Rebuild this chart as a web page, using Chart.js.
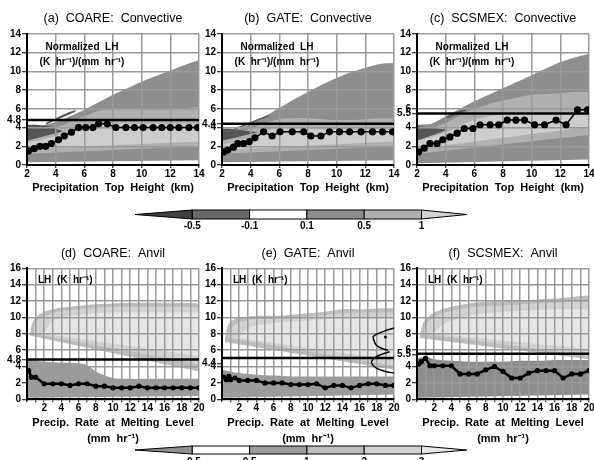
<!DOCTYPE html>
<html><head><meta charset="utf-8">
<script src="https://cdn.jsdelivr.net/npm/chart.js@4.4.1/dist/chart.umd.min.js"></script>
<style>
html,body{margin:0;padding:0;background:#fff}
body{position:relative;width:594px;height:460px;overflow:hidden;font-family:"Liberation Sans",Arial,sans-serif}
canvas{position:absolute}
#cb{position:absolute;left:0;top:0}
</style></head><body>
<canvas id="pa" width="205" height="200" style="left:0;top:0"></canvas>
<canvas id="pb" width="205" height="200" style="left:195px;top:0"></canvas>
<canvas id="pc" width="205" height="200" style="left:390px;top:0"></canvas>
<canvas id="pd" width="205" height="218" style="left:0;top:230px"></canvas>
<canvas id="pe" width="205" height="218" style="left:195px;top:230px"></canvas>
<canvas id="pf" width="205" height="218" style="left:390px;top:230px"></canvas>
<svg id="cb" width="594" height="460"></svg>
<script>
// ---------- DATA ----------
// Panel titles
const titles = ['(a)  COARE:  Convective','(b)  GATE:  Convective','(c)  SCSMEX:  Convective','(d)  COARE:  Anvil','(e)  GATE:  Anvil','(f)  SCSMEX:  Anvil'];
const meanLabels = [4.8, 4.4, 5.5, 4.8, 4.4, 5.5];     // extra y tick labels
const meanLines = [4.8, 4.4, 5.5, 4.85, 5.05, 5.55];   // thick horizontal lines, as drawn

// Convective panels: normalized LH vs precipitation top height
const bandXTop = [2,3,4,5,6,7,8,9,10,11,12,13,14];

const aLineX = [2.1,2.5,2.9,3.3,3.7,4.2,4.6,5.1,5.6,6.1,6.6,7.0,7.6,8.2,8.9,9.5,10.1,10.8,11.4,12.0,12.6,13.3,13.9];
const aLineY = [1.5,1.75,2.0,2.0,2.3,2.7,3.1,3.5,4.0,4.0,4.0,4.4,4.4,4.0,4.0,4.0,4.0,4.0,4.0,4.0,4.0,4.0,4.0];
const aOuterHi = [4.0,4.2,4.6,5.2,5.9,6.7,7.5,8.2,8.9,9.5,10.1,10.7,11.2];
const aOuterLo = [0.3,0.35,0.4,0.5,0.6,0.7,0.8,0.75,0.65,0.6,0.55,0.5,0.5];
const aMidHi = [3.2,3.6,4.0,4.6,5.2,5.8,6.0,6.1,6.0,5.9,6.0,6.1,6.2];
const aMidLo = [1.2,1.3,1.4,1.5,1.6,1.8,1.9,1.9,1.8,1.8,1.9,2.0,2.0];
const aInHi = [2.4,2.7,3.1,3.6,4.2,4.4,4.4,4.4,4.4,4.4,4.4,4.4,4.4];
const aInLo = [1.7,1.9,2.1,2.3,2.5,2.6,2.6,2.5,2.5,2.5,2.5,2.5,2.5];
const aDarkX = [2,2.5,3,3.5,4,4.5];
const aDarkHi = [4.3,4.3,4.25,4.15,3.9,3.6];
const aDarkLo = [2.6,2.8,3.0,3.2,3.4,3.6];
const aStreakX = [3.3,4,4.7,5.4];
const aStreakHi = [4.5,5.0,5.5,5.9];
const aStreakLo = [4.3,4.7,5.2,5.7];

const bLineX = [2.1,2.4,2.8,3.1,3.5,3.9,4.3,4.9,5.5,6.05,6.9,7.7,8.2,8.9,9.5,10.2,10.9,11.7,12.5,13.2,13.9];
const bLineY = [1.4,1.6,1.9,2.3,2.3,2.5,2.9,3.55,3.1,3.55,3.55,3.55,3.1,3.1,3.55,3.55,3.55,3.55,3.55,3.55,3.55];
const bOuterHi = [3.6,3.8,4.4,5.2,6.1,7.0,7.8,8.6,9.3,9.9,10.4,10.8,10.9];
const bOuterLo = [0.3,0.35,0.4,0.5,0.6,0.6,0.6,0.6,0.55,0.5,0.5,0.5,0.5];
const bMidHi = [3.0,3.4,3.9,4.5,4.9,5.0,5.0,4.9,4.8,4.8,4.9,5.0,5.0];
const bMidLo = [1.2,1.3,1.4,1.5,1.6,1.7,1.7,1.7,1.7,1.7,1.8,1.9,2.0];
const bInHi = [2.2,2.5,3.0,3.6,3.9,3.9,3.9,3.8,3.8,3.8,3.8,3.8,3.8];
const bInLo = [1.6,1.8,2.0,2.2,2.4,2.5,2.5,2.5,2.5,2.5,2.5,2.5,2.5];
const bDarkX = [2,2.5,3,3.5,4,4.5];
const bDarkHi = [3.9,3.9,3.8,3.7,3.6,3.5];
const bDarkLo = [2.6,2.8,3.0,3.2,3.4,3.5];
const bStreakX = [2.3,3,4,5,5.3];
const bStreakHi = [3.6,4.0,4.6,5.2,5.4];
const bStreakLo = [3.4,3.8,4.3,4.9,5.2];

const cLineX = [2.1,2.5,2.9,3.4,3.8,4.3,4.8,5.3,5.9,6.4,7.1,7.7,8.3,8.9,9.5,10.2,10.9,11.7,12.4,13.2,13.9];
const cLineY = [1.4,1.8,2.3,2.3,2.7,3.0,3.4,3.9,3.9,4.3,4.3,4.3,4.8,4.8,4.8,4.3,4.3,4.8,4.3,5.9,5.9];
const cOuterHi = [4.3,4.4,5.2,6.0,6.8,7.5,8.2,8.9,9.6,10.3,11.0,11.5,11.9];
const cOuterLo = [0.2,0.3,0.4,0.6,0.8,1.0,1.1,1.1,1.1,1.0,1.0,0.8,0.6];
const cMidHi = [3.6,3.9,4.5,5.3,6.0,6.5,6.9,7.2,7.5,7.6,7.7,7.8,7.8];
const cMidLo = [1.2,1.4,1.6,1.9,2.1,2.3,2.4,2.5,2.6,2.7,2.8,3.0,3.2];
const cInHi = [2.6,3.0,3.5,4.2,4.8,5.2,5.4,5.5,5.5,5.5,5.6,5.7,5.8];
const cInLo = [1.7,1.9,2.2,2.6,3.0,3.3,3.5,3.6,3.7,3.8,3.9,4.0,4.1];
const cDarkX = [2,2.5,3,3.5,4];
const cDarkHi = [4.2,4.1,4.0,3.9,3.8];
const cDarkLo = [2.6,2.8,3.1,3.4,3.7];
const cStreakX = [4,4.7,5.4];
const cStreakHi = [5.1,5.6,6.0];
const cStreakLo = [4.9,5.3,5.8];

// Anvil panels: LH vs precip rate at melting level
const blobX1 = [0.3,0.6,1,2,3,4,6,8,10,12,14,16,18,20];
const blobX2 = [0.8,1,2,3,4,6,8,10,12,14,16,18,20];
const blobX3 = [2,2.5,3,4,6,8,10,12,14,16,18,20];
const lowX = [0,1,2,4,6,7,8,10,12,14,16,18,20];

const dLineX = [0.2,0.5,1,2,3,4,5,6,7,8,9,10,11,12,13,14,15,16,17,18,19,20];
const dLineY = [3.5,2.7,2.7,1.9,1.9,1.9,1.7,1.9,1.9,1.6,1.6,1.4,1.4,1.4,1.6,1.4,1.4,1.4,1.4,1.4,1.4,1.4];
const dBlob1Hi = [7.8,9.2,10.0,10.7,11.0,11.2,11.4,11.6,11.7,11.8,11.8,11.8,11.8,11.7];
const dBlob1Lo = [7.8,6.4,5.8,5.4,5.2,5.1,4.9,4.2,3.6,3.4,3.4,3.4,3.4,3.4];
const dBlob2Hi = [8.0,9.4,10.1,10.5,10.8,11.0,11.2,11.3,11.3,11.3,11.3,11.3,11.2];
const dBlob2Lo = [8.0,6.6,6.0,5.7,5.5,5.3,5.0,4.6,4.4,4.3,4.3,4.3,4.3];
const dBlob3Hi = [8.0,9.0,9.6,10.0,10.3,10.5,10.6,10.6,10.6,10.6,10.6,10.6];
const dBlob3Lo = [8.0,7.0,6.5,6.2,5.9,5.6,5.5,5.4,5.4,5.4,5.4,5.3];
const dLowHi = [4.9,4.7,4.6,4.5,4.4,4.2,3.4,2.6,2.5,2.5,2.5,2.5,2.5];
const dLowLo = [0.2,0.3,0.4,0.5,0.5,0.5,0.5,0.4,0.4,0.4,0.4,0.4,0.4];

const eLineX = [0.2,0.5,0.8,1,1.5,2,3,4,5,6,7,8,9,10,11,12,13,14,15,16,17,18,19,20];
const eLineY = [2.7,2.4,2.8,2.4,2.6,2.3,2.3,2.3,2.0,2.0,2.0,1.8,1.8,1.8,1.9,1.4,1.7,1.7,1.4,1.7,1.9,1.9,1.7,1.7];
const eBlob1Hi = [7.0,8.8,9.5,10.0,10.1,10.2,10.2,10.3,10.5,10.7,11.0,11.0,11.1,11.1];
const eBlob1Lo = [7.0,5.6,4.8,4.3,4.0,3.9,3.8,3.7,3.6,3.5,3.5,3.6,3.6,3.6];
const eBlob2Hi = [7.5,8.6,9.4,9.7,9.8,9.9,10.0,10.1,10.3,10.5,10.6,10.6,10.6];
const eBlob2Lo = [7.5,6.0,5.2,4.8,4.6,4.4,4.3,4.2,4.1,4.1,4.1,4.1,4.1];
const eBlob3Hi = [7.5,8.2,8.6,9.0,9.3,9.5,9.6,9.8,10.0,10.0,10.0,10.0];
const eBlob3Lo = [7.5,6.8,6.3,5.9,5.6,5.3,5.1,4.9,4.8,4.8,4.8,4.8];
const eLowHi = [3.6,3.4,3.2,3.0,2.9,2.85,2.8,2.8,2.8,2.8,2.8,2.8,2.8];
const eLowLo = [0.2,0.4,0.5,0.6,0.6,0.6,0.6,0.6,0.6,0.6,0.6,0.6,0.6];
const eContour1X = [20,18.8,17.6,17.7,17.95,18.6,19.3];
const eContour1Y = [8.7,8.3,7.7,7.1,6.6,6.2,6.0];
const eContour2X = [19.5,18.6,17.95,17.5,17.4,17.95,19,20];
const eContour2Y = [5.8,5.5,5.2,4.8,4.4,3.8,3.4,3.2];
const eContourDotX = [19.0];
const eContourDotY = [7.6];

const fLineX = [0.2,0.5,1,1.5,2,3,4,5,6,7,8,9,10,11,12,13,14,15,16,17,18,19,20];
const fLineY = [4.3,4.6,5.0,4.1,4.1,4.1,4.1,3.1,3.1,3.1,3.6,4.0,3.4,2.6,2.6,3.2,3.5,3.5,3.5,2.6,3.1,3.1,3.5];
const fBlob1Hi = [7.5,9.0,9.8,10.6,11.0,11.3,11.7,11.9,12.0,12.1,12.2,12.3,12.5,12.7];
const fBlob1Lo = [7.5,6.2,5.6,5.2,5.0,4.9,4.8,4.8,4.8,4.8,4.8,4.8,4.8,4.9];
const fBlob2Hi = [8.0,9.2,10.0,10.5,10.8,11.2,11.4,11.5,11.6,11.7,11.8,11.9,12.0];
const fBlob2Lo = [8.0,6.8,6.0,5.7,5.5,5.3,5.2,5.2,5.1,5.1,5.1,5.2,5.3];
const fBlob3Hi = [8.0,8.7,9.1,9.6,10.2,10.5,10.7,10.8,10.9,11.0,11.0,11.0];
const fBlob3Lo = [8.0,7.5,7.2,6.7,6.3,6.1,6.0,6.0,6.0,6.0,6.0,6.1];
const fLowHi = [5.0,5.2,4.9,4.7,4.6,4.6,4.6,4.6,4.7,4.7,4.8,4.8,4.8];
const fLowLo = [0.2,0.4,0.5,0.6,0.6,0.6,0.6,0.6,0.6,0.6,0.6,0.6,0.6];

// Colour bars
const cbTopLabels = ['-0.5','-0.1','0.1','0.5','1'];
const cbTopColors = ['#404040','#686868','#ffffff','#8c8c8c','#b0b0b0','#d2d2d2'];
const cbBotLabels = ['-0.5','0.5','1','2','3'];
const cbBotColors = ['#8e8e8e','#ffffff','#9c9c9c','#bdbdbd','#d4d4d4','#e8e8e8'];

// ---------- CHARTS ----------
Chart.defaults.font.family = '"Liberation Sans", Arial, Helvetica, sans-serif';
Chart.defaults.color = '#000';
Chart.defaults.animation = false;

const pts = (xs, ys) => xs.map((x, i) => ({x, y: ys[i]}));

const innerText = {
  id: 'innerText',
  afterDraw(chart, args, opts) {
    const {ctx, chartArea: a} = chart;
    ctx.save();
    ctx.fillStyle = '#000';
    ctx.textBaseline = 'middle';
    (opts.lines || []).forEach(l => {
      ctx.font = l.font; ctx.textAlign = l.align;
      ctx.fillText(l.text, a.left + l.dx, a.top + l.dy);
    });
    ctx.restore();
  }
};

function build(id, p) {
  // placeholder at index 0 (a fill target of index 0 is never drawn by the filler)
  const ds = [{data: [], borderWidth: 0, pointRadius: 0, fill: false, order: 200}];
  p.bands.forEach((b, k) => {
    const lo = ds.length;
    ds.push({data: pts(b.x, b.lo), borderWidth: 0, borderColor: 'rgba(0,0,0,0)', pointRadius: 0, fill: false, tension: 0.3, order: 100 - k});
    ds.push({data: pts(b.x, b.hi), borderWidth: 0, borderColor: 'rgba(0,0,0,0)', pointRadius: 0, fill: lo, backgroundColor: b.color, tension: 0.3, order: 100 - k});
  });
  (p.contours || []).forEach(c => ds.push({data: pts(c.x, c.y), borderColor: '#000', borderWidth: 1.5, pointRadius: c.r || 0,
    pointBackgroundColor: '#000', pointBorderWidth: 0, showLine: !c.r, fill: false, tension: 0.3, order: 3}));
  ds.push({data: [{x: p.xMin, y: p.meanLine}, {x: p.xMax, y: p.meanLine}], borderColor: '#000', borderWidth: 2.5, pointRadius: 0, fill: false, order: 2});
  ds.push({data: pts(p.lineX, p.lineY), borderColor: '#000', borderWidth: p.lineW, pointRadius: p.ptR, pointBackgroundColor: '#000', pointBorderWidth: 0, fill: false, order: 0});

  new Chart(document.getElementById(id), {
    type: 'line',
    data: {datasets: ds},
    plugins: [innerText],
    options: {
      responsive: false, animation: false, events: [],
      layout: {padding: {left: 0, right: 6, top: 0, bottom: 0}},
      plugins: {
        legend: {display: false}, tooltip: {enabled: false},
        filler: {drawTime: 'beforeDraw', propagate: false},
        title: {display: true, text: p.title, fullSize: false, color: '#000',
                font: {size: 12.5, weight: 'normal', lineHeight: 1.2}, padding: p.titlePad},
        innerText: {lines: p.inner}
      },
      scales: {
        x: {
          type: 'linear', min: p.xMin, max: p.xMax,
          ticks: {stepSize: p.xStep, autoSkip: false, maxRotation: 0, minRotation: 0, padding: 0,
                  font: {size: 10, weight: 'bold'}, color: '#000', callback: p.xLabel},
          grid: {color: '#9a9a9a', lineWidth: 1.5, tickLength: 3, tickColor: '#000', tickWidth: 1},
          border: {color: '#000', width: 2},
          title: {display: true, text: p.xTitle, color: '#000',
                  font: {size: 11, weight: 'bold', lineHeight: p.xTitleLH}, padding: {top: 0, bottom: p.xTitlePad}},
          afterFit: s => { s.height = p.xAxisH; }
        },
        y: {
          type: 'linear', min: 0, max: p.yMax,
          ticks: {stepSize: 2, autoSkip: false, padding: 1, font: {size: 10, weight: 'bold'}, color: '#000',
                  callback: v => String(v)},
          grid: {color: c => (c.tick && c.tick.value === p.meanLabel) ? 'rgba(0,0,0,0)' : '#9a9a9a',
                 lineWidth: 1.5, tickLength: 5, tickColor: '#000', tickWidth: 1},
          border: {color: '#000', width: 2},
          afterBuildTicks: s => { s.ticks.push({value: p.meanLabel}); s.ticks.sort((a, b) => a.value - b.value); },
          afterFit: s => { s.width = 27; }
        }
      }
    }
  });
}

const topInner = [
  {text: 'Normalized  LH', font: 'bold 10px "Liberation Sans", Arial', align: 'center', dx: 55, dy: 13},
  {text: '(K  hr⁻¹)/(mm  hr⁻¹)', font: 'bold 10px "Liberation Sans", Arial', align: 'center', dx: 55, dy: 28}
];
const botInner = [
  {text: 'LH  (K  hr⁻¹)', font: 'bold 10px "Liberation Sans", Arial', align: 'left', dx: 11, dy: 12}
];
const topCommon = {xMin: 2, xMax: 14, xStep: 2, yMax: 14, xLabel: v => String(v),
  xTitle: 'Precipitation  Top  Height  (km)', xTitleLH: 1.2, xTitlePad: 5, xAxisH: 35,
  titlePad: {top: 11.5, bottom: 7.5}, inner: topInner, lineW: 1.5, ptR: 3.6};
const botCommon = {xMin: 0, xMax: 20, xStep: 1, yMax: 16, xLabel: v => (v > 0 && v % 2 === 0) ? String(v) : '',
  xTitle: ['Precip.  Rate  at  Melting  Level', '(mm  hr⁻¹)'], xTitleLH: 1.45, xTitlePad: 1, xAxisH: 48.7,
  titlePad: {top: 15.8, bottom: 7.5}, inner: botInner, lineW: 2.5, ptR: 2.6};
const panel = i => ({title: titles[i], meanLabel: meanLabels[i], meanLine: meanLines[i]});

const C_OUT = '#8e8e8e', C_MID = '#b0b0b0', C_IN = '#cdcdcd', C_DARK = '#555555', C_STREAK = '#5e5e5e';
build('pa', Object.assign({}, topCommon, panel(0), {lineX: aLineX, lineY: aLineY, bands: [
  {x: bandXTop, hi: aOuterHi, lo: aOuterLo, color: C_OUT},
  {x: bandXTop, hi: aMidHi, lo: aMidLo, color: C_MID},
  {x: bandXTop, hi: aInHi, lo: aInLo, color: C_IN},
  {x: aDarkX, hi: aDarkHi, lo: aDarkLo, color: C_DARK},
  {x: aStreakX, hi: aStreakHi, lo: aStreakLo, color: C_STREAK}]}));
build('pb', Object.assign({}, topCommon, panel(1), {lineX: bLineX, lineY: bLineY, bands: [
  {x: bandXTop, hi: bOuterHi, lo: bOuterLo, color: C_OUT},
  {x: bandXTop, hi: bMidHi, lo: bMidLo, color: C_MID},
  {x: bandXTop, hi: bInHi, lo: bInLo, color: C_IN},
  {x: bDarkX, hi: bDarkHi, lo: bDarkLo, color: C_DARK},
  {x: bStreakX, hi: bStreakHi, lo: bStreakLo, color: C_STREAK}]}));
build('pc', Object.assign({}, topCommon, panel(2), {lineX: cLineX, lineY: cLineY, bands: [
  {x: bandXTop, hi: cOuterHi, lo: cOuterLo, color: C_OUT},
  {x: bandXTop, hi: cMidHi, lo: cMidLo, color: C_MID},
  {x: bandXTop, hi: cInHi, lo: cInLo, color: C_IN},
  {x: cDarkX, hi: cDarkHi, lo: cDarkLo, color: C_DARK},
  {x: cStreakX, hi: cStreakHi, lo: cStreakLo, color: C_STREAK}]}));

const A_LOW = '#9c9c9c', A1 = '#bdbdbd', A2 = '#d2d2d2', A3 = '#e6e6e6';
build('pd', Object.assign({}, botCommon, panel(3), {lineX: dLineX, lineY: dLineY, bands: [
  {x: lowX, hi: dLowHi, lo: dLowLo, color: A_LOW},
  {x: blobX1, hi: dBlob1Hi, lo: dBlob1Lo, color: A1},
  {x: blobX2, hi: dBlob2Hi, lo: dBlob2Lo, color: A2},
  {x: blobX3, hi: dBlob3Hi, lo: dBlob3Lo, color: A3}]}));
build('pe', Object.assign({}, botCommon, panel(4), {lineX: eLineX, lineY: eLineY, bands: [
  {x: lowX, hi: eLowHi, lo: eLowLo, color: A_LOW},
  {x: blobX1, hi: eBlob1Hi, lo: eBlob1Lo, color: A1},
  {x: blobX2, hi: eBlob2Hi, lo: eBlob2Lo, color: A2},
  {x: blobX3, hi: eBlob3Hi, lo: eBlob3Lo, color: A3}],
  contours: [{x: eContour1X, y: eContour1Y}, {x: eContour2X, y: eContour2Y}, {x: eContourDotX, y: eContourDotY, r: 1.5}]}));
build('pf', Object.assign({}, botCommon, panel(5), {lineX: fLineX, lineY: fLineY, bands: [
  {x: lowX, hi: fLowHi, lo: fLowLo, color: '#8e8e8e'},
  {x: blobX1, hi: fBlob1Hi, lo: fBlob1Lo, color: A1},
  {x: blobX2, hi: fBlob2Hi, lo: fBlob2Lo, color: A2},
  {x: blobX3, hi: fBlob3Hi, lo: fBlob3Lo, color: A3}]}));

// ---------- COLOUR BARS ----------
(function () {
  const svg = document.getElementById('cb');
  const NS = 'http://www.w3.org/2000/svg';
  const edges = [192.3, 249.6, 306.9, 364.2, 421.5];
  function bar(top, h, colors, labels, labelY) {
    const mid = top + h / 2;
    const mk = (tag, attrs) => { const e = document.createElementNS(NS, tag); for (const k in attrs) e.setAttribute(k, attrs[k]); svg.appendChild(e); return e; };
    mk('polygon', {points: `135,${mid} ${edges[0]},${top} ${edges[0]},${top + h}`, fill: colors[0], stroke: '#000', 'stroke-width': 1});
    for (let i = 0; i < 4; i++) mk('rect', {x: edges[i], y: top, width: edges[i + 1] - edges[i], height: h, fill: colors[i + 1], stroke: '#000', 'stroke-width': 1});
    mk('polygon', {points: `${edges[4]},${top} 466.7,${mid} ${edges[4]},${top + h}`, fill: colors[5], stroke: '#000', 'stroke-width': 1});
    labels.forEach((t, i) => {
      const e = mk('text', {x: edges[i], y: labelY, 'text-anchor': 'middle', 'font-family': 'Liberation Sans, Arial, sans-serif', 'font-size': 10, 'font-weight': 'bold', fill: '#000'});
      e.textContent = t;
    });
  }
  bar(210, 9, cbTopColors, cbTopLabels, 229);
  bar(446, 8, cbBotColors, cbBotLabels, 465);
})();
</script>
</body></html>
